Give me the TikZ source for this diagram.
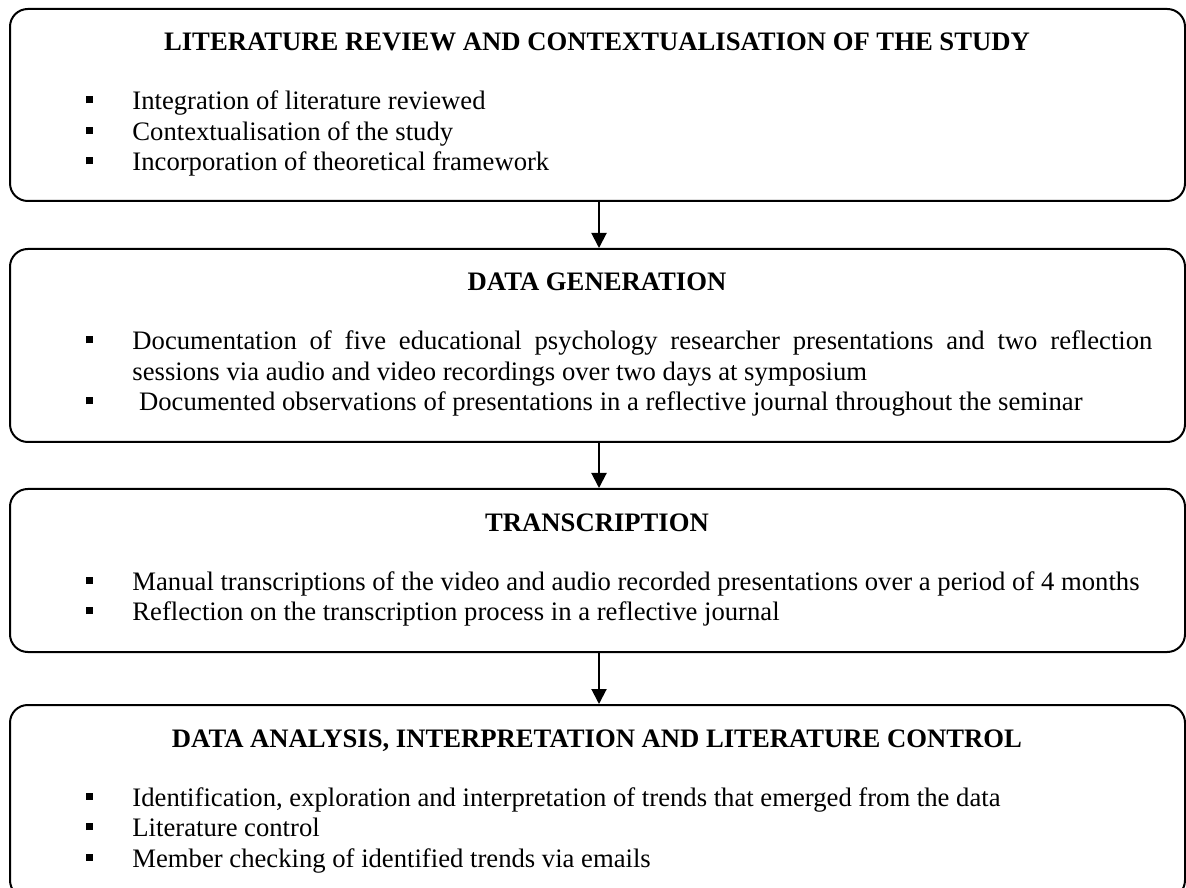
\documentclass[tikz,border=0pt]{standalone}
\usepackage{fontspec}
\setmainfont{Liberation Serif}
\usetikzlibrary{fit,arrows.meta}
\newlength\pxu
\setlength\pxu{0.45pt}
\newcommand\bul{\rule[6.5\pxu]{7\pxu}{7\pxu}\hspace{39\pxu}}
\tikzset{
  stagebox/.style={draw, line width=0.9pt, rounded corners=8pt, inner sep=0pt},
  ttl/.style={anchor=base, inner sep=0pt, font=\fontsize{12pt}{14pt}\selectfont\bfseries},
  itm/.style={anchor=base west, inner sep=0pt, font=\fontsize{12pt}{14pt}\selectfont},
  flow/.style={line width=0.9pt, -{Triangle[length=6.75pt, width=6.75pt]}}
}
\begin{document}
\begin{tikzpicture}[x=0.45pt, y=-0.45pt]
\useasboundingbox (0,0) rectangle (1186,888);
\clip (0,0) rectangle (1186,888);
% boxes
\node[stagebox, fit={(10,9) (1185,201)}] (b1) {};
\node[stagebox, fit={(10,249) (1185,442)}] (b2) {};
\node[stagebox, fit={(10,489) (1185,652)}] (b3) {};
\node[stagebox, fit={(10,705) (1185,898)}] (b4) {};
% box 1
\node[ttl] (t1) at (597,51) {LITERATURE REVIEW AND CONTEXTUALISATION OF THE STUDY};
\node[itm] (i11) at (86,110) {\bul Integration of literature reviewed};
\node[itm] (i12) at (86,140.5) {\bul Contextualisation of the study};
\node[itm] (i13) at (86,171) {\bul Incorporation of theoretical framework};
% box 2
\node[ttl] (t2) at (597,291) {DATA GENERATION};
\node[itm] (i21) at (86,350) {\bul\makebox[1020\pxu][s]{Documentation of five educational psychology researcher presentations and two reflection}};
\node[itm] (i21b) at (132,380.5) {sessions via audio and video recordings over two days at symposium};
\node[itm] (i22) at (86,411) {\bul\ Documented observations of presentations in a reflective journal throughout the seminar};
% box 3
\node[ttl] (t3) at (597,531) {TRANSCRIPTION};
\node[itm] (i31) at (86,590) {\bul Manual transcriptions of the video and audio recorded presentations over a period of 4 months};
\node[itm] (i32) at (86,620.5) {\bul Reflection on the transcription process in a reflective journal};
% box 4
\node[ttl] (t4) at (597,747) {DATA ANALYSIS, INTERPRETATION AND LITERATURE CONTROL};
\node[itm] (i41) at (86,806) {\bul Identification, exploration and interpretation of trends that emerged from the data};
\node[itm] (i42) at (86,836.5) {\bul Literature control};
\node[itm] (i43) at (86,867) {\bul Member checking of identified trends via emails};
% arrows
\coordinate (ax) at (599,0);
\draw[flow] (b1.south -| ax) -- (b2.north -| ax);
\draw[flow] (b2.south -| ax) -- (b3.north -| ax);
\draw[flow] (b3.south -| ax) -- (b4.north -| ax);
\end{tikzpicture}
\end{document}
